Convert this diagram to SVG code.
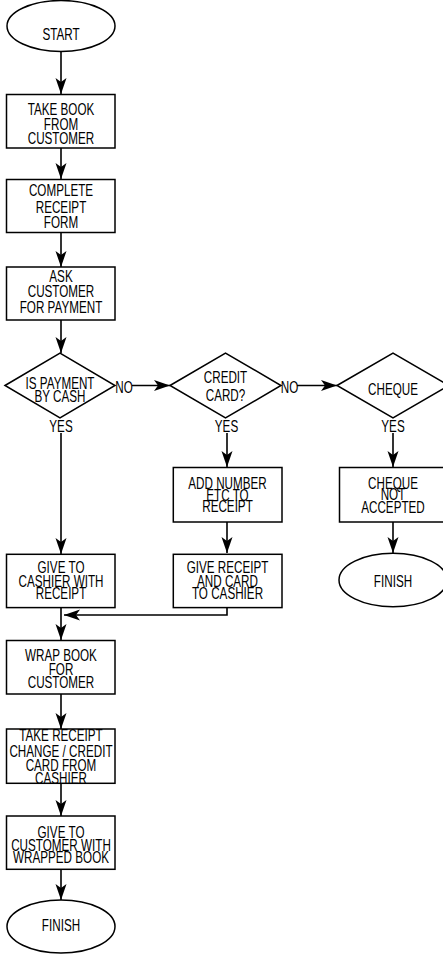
<svg xmlns="http://www.w3.org/2000/svg" width="443" height="954" viewBox="0 0 443 954">
<style>
  .shape { fill: #ffffff; stroke: #000000; stroke-width: 1.5; }
  .conn { fill: none; stroke: #000000; stroke-width: 1.6; }
  text { font-family: "Liberation Sans", Arial, sans-serif; font-size: 16px; fill: #000000; text-anchor: middle; }
</style>
<defs>
  <marker id="arr" markerUnits="userSpaceOnUse" markerWidth="18" markerHeight="12" refX="16" refY="5.5" orient="auto">
    <path d="M0,0 L16,5.5 L0,11 L4,5.5 Z" fill="#000000"/>
  </marker>
</defs>
<rect width="443" height="954" fill="#ffffff"/>

<g id="connectors">
  <line class="conn" x1="61" y1="52" x2="61" y2="94" marker-end="url(#arr)"/>
  <line class="conn" x1="61" y1="148" x2="61" y2="179" marker-end="url(#arr)"/>
  <line class="conn" x1="61" y1="232" x2="61" y2="267" marker-end="url(#arr)"/>
  <line class="conn" x1="61" y1="320" x2="61" y2="353" marker-end="url(#arr)"/>
  <line class="conn" x1="132" y1="385.5" x2="170" y2="385.5" marker-end="url(#arr)"/>
  <line class="conn" x1="297" y1="385.5" x2="337" y2="385.5" marker-end="url(#arr)"/>
  <line class="conn" x1="61" y1="433" x2="61" y2="554" marker-end="url(#arr)"/>
  <line class="conn" x1="227" y1="433" x2="227" y2="467" marker-end="url(#arr)"/>
  <line class="conn" x1="393" y1="433" x2="393" y2="467" marker-end="url(#arr)"/>
  <line class="conn" x1="227" y1="522" x2="227" y2="553" marker-end="url(#arr)"/>
  <line class="conn" x1="393" y1="522" x2="393" y2="553" marker-end="url(#arr)"/>
  <polyline class="conn" points="227,607.5 227,615 64,615" marker-end="url(#arr)"/>
  <line class="conn" x1="61" y1="607.5" x2="61" y2="640" marker-end="url(#arr)"/>
  <line class="conn" x1="61" y1="694" x2="61" y2="729" marker-end="url(#arr)"/>
  <line class="conn" x1="61" y1="783" x2="61" y2="816" marker-end="url(#arr)"/>
  <line class="conn" x1="61" y1="869" x2="61" y2="900" marker-end="url(#arr)"/>
  <text transform="translate(124 0) scale(0.73 1)" x="0" y="393">NO</text>
  <text transform="translate(289.5 0) scale(0.73 1)" x="0" y="393">NO</text>
  <text transform="translate(61 0) scale(0.73 1)" x="0" y="432">YES</text>
  <text transform="translate(226.5 0) scale(0.73 1)" x="0" y="432">YES</text>
  <text transform="translate(393 0) scale(0.73 1)" x="0" y="432">YES</text>
</g>

<g id="start">
  <ellipse class="shape" cx="61" cy="26" rx="54" ry="25.5"/>
  <text transform="translate(61 0) scale(0.73 1)" x="0" y="40">START</text>
</g>

<g id="take-book">
  <rect class="shape" x="6.5" y="94.5" width="108.5" height="53.5"/>
  <g transform="translate(61 0) scale(0.73 1)">
    <text x="0" y="115">TAKE BOOK</text>
    <text x="0" y="130">FROM</text>
    <text x="0" y="144.5">CUSTOMER</text>
  </g>
</g>

<g id="complete-receipt">
  <rect class="shape" x="6.5" y="179.5" width="108.5" height="53"/>
  <g transform="translate(61 0) scale(0.73 1)">
    <text x="0" y="196.5">COMPLETE</text>
    <text x="0" y="213">RECEIPT</text>
    <text x="0" y="228.5">FORM</text>
  </g>
</g>

<g id="ask-payment">
  <rect class="shape" x="6.5" y="267" width="108.5" height="53"/>
  <g transform="translate(61 0) scale(0.73 1)">
    <text x="0" y="281.7">ASK</text>
    <text x="0" y="297.3">CUSTOMER</text>
    <text x="0" y="313.3">FOR PAYMENT</text>
  </g>
</g>

<g id="is-cash">
  <polygon class="shape" points="5,385.5 60,353 115,385.5 60,418"/>
  <g transform="translate(60 0) scale(0.73 1)">
    <text x="0" y="389">IS PAYMENT</text>
    <text x="0" y="402">BY CASH</text>
  </g>
</g>

<g id="credit-card">
  <polygon class="shape" points="170,385.5 225.5,353 281,385.5 225.5,418"/>
  <g transform="translate(225.5 0) scale(0.73 1)">
    <text x="0" y="383.5">CREDIT</text>
    <text x="0" y="401.5">CARD?</text>
  </g>
</g>

<g id="cheque">
  <polygon class="shape" points="337,385.5 393,353 449,385.5 393,418"/>
  <text transform="translate(393 0) scale(0.73 1)" x="0" y="395">CHEQUE</text>
</g>

<g id="add-number">
  <rect class="shape" x="173.3" y="467.5" width="108.7" height="54.5"/>
  <g transform="translate(227.5 0) scale(0.73 1)">
    <text x="0" y="489.3">ADD NUMBER</text>
    <text x="0" y="500.7">ETC TO</text>
    <text x="0" y="511.7">RECEIPT</text>
  </g>
</g>

<g id="cheque-not-accepted">
  <rect class="shape" x="339.5" y="467.5" width="109" height="54.5"/>
  <g transform="translate(393 0) scale(0.73 1)">
    <text x="0" y="489.3">CHEQUE</text>
    <text x="0" y="500">NOT</text>
    <text x="0" y="513.3">ACCEPTED</text>
  </g>
</g>

<g id="finish-cheque">
  <ellipse class="shape" cx="393" cy="580" rx="54" ry="26.7"/>
  <text transform="translate(393 0) scale(0.73 1)" x="0" y="587.5">FINISH</text>
</g>

<g id="give-cashier">
  <rect class="shape" x="6.5" y="554.3" width="108.5" height="53.3"/>
  <g transform="translate(61 0) scale(0.73 1)">
    <text x="0" y="573.3">GIVE TO</text>
    <text x="0" y="586.7">CASHIER WITH</text>
    <text x="0" y="599">RECEIPT</text>
  </g>
</g>

<g id="give-receipt-card">
  <rect class="shape" x="173.3" y="554.3" width="108.7" height="53.3"/>
  <g transform="translate(227.5 0) scale(0.73 1)">
    <text x="0" y="573.3">GIVE RECEIPT</text>
    <text x="0" y="586.7">AND CARD</text>
    <text x="0" y="599">TO CASHIER</text>
  </g>
</g>

<g id="wrap-book">
  <rect class="shape" x="6.5" y="640.5" width="108.5" height="53.5"/>
  <g transform="translate(61 0) scale(0.73 1)">
    <text x="0" y="661">WRAP BOOK</text>
    <text x="0" y="675">FOR</text>
    <text x="0" y="688.5">CUSTOMER</text>
  </g>
</g>

<g id="take-receipt">
  <rect class="shape" x="6.5" y="729" width="108.5" height="54.3"/>
  <g transform="translate(61 0) scale(0.73 1)">
    <text x="0" y="741.5">TAKE RECEIPT</text>
    <text x="0" y="757">CHANGE / CREDIT</text>
    <text x="0" y="771.5">CARD FROM</text>
    <text x="0" y="784">CASHIER</text>
  </g>
</g>

<g id="give-customer">
  <rect class="shape" x="6.5" y="816" width="108.5" height="53.3"/>
  <g transform="translate(61 0) scale(0.73 1)">
    <text x="0" y="838">GIVE TO</text>
    <text x="0" y="851.5">CUSTOMER WITH</text>
    <text x="0" y="863.5">WRAPPED BOOK</text>
  </g>
</g>

<g id="finish">
  <ellipse class="shape" cx="61" cy="926.5" rx="54" ry="26.5"/>
  <text transform="translate(61 0) scale(0.73 1)" x="0" y="931.5">FINISH</text>
</g>
</svg>
